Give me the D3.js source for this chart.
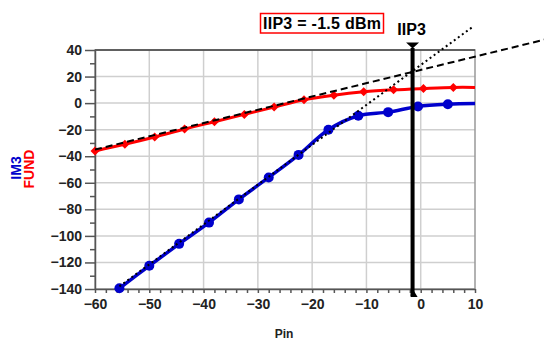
<!DOCTYPE html>
<html>
<head>
  <meta charset="UTF-8">
  <title>IIP3</title>
  <script src="https://cdn.jsdelivr.net/npm/d3@7"></script>
  <style>
    body { margin: 0; background: #fff; }
    text { font-family: "Liberation Sans", Arial, sans-serif; font-weight: bold; }
    .grid line { stroke: #cfcfcf; stroke-width: 1.5; }
    .axis path, .axis line { stroke: #555; stroke-width: 1.5; }
    .axis text { font-size: 14px; fill: #222; }
  </style>
</head>
<body>
<div id="chart"></div>
<script>
  // FUND (red) and IM3 (blue) versus Pin
  var pinFund = [-60, -54.5, -49, -43.5, -38, -32.5, -27, -21.5, -16, -10.5, -5, 0.5, 6, 10];
  var fund    = [-36, -31, -25.5, -19.5, -14, -8.5, -3, 2.5, 6, 8.5, 10, 11, 11.8, 11.8];

  var pinIm3 = [-55.5, -50, -44.5, -39, -33.5, -28, -22.5, -17, -11.5, -6, -0.5, 5, 10];
  var im3    = [-139.5, -122.5, -106, -90, -72.5, -56, -39, -20, -9.5, -6.8, -2.5, -0.8, -0.3];

  // extrapolated lines (1:1 and 3:1)
  var fundExtX = [-60, 23];
  var fundExtY = [-35, 48];
  var im3ExtX = [-55.5, 9.6];
  var im3ExtY = [-138, 57.5];

  var iip3 = -1.5;
  var xTicks = [-60, -50, -40, -30, -20, -10, 0, 10];
  var yTicks = [40, 20, 0, -20, -40, -60, -80, -100, -120, -140];

  var margin = { top: 50, right: 69, bottom: 51, left: 95 };
  var width = 544 - margin.left - margin.right;
  var height = 340 - margin.top - margin.bottom;

  var root = d3.select('#chart').append('svg')
    .attr('width', 544)
    .attr('height', 340);
  var svg = root.append('g')
    .attr('transform', 'translate(' + margin.left + ',' + margin.top + ')');

  var x = d3.scaleLinear().domain([-60, 10]).range([0, width]);
  var y = d3.scaleLinear().domain([-140, 40]).range([height, 0]);

  // grid
  svg.append('g').attr('class', 'grid')
    .selectAll('line.v').data(xTicks.slice(1, -1)).enter().append('line')
    .attr('x1', d => x(d)).attr('x2', d => x(d)).attr('y1', 0).attr('y2', height);
  svg.append('g').attr('class', 'grid')
    .selectAll('line.h').data(yTicks.slice(1, -1)).enter().append('line')
    .attr('y1', d => y(d)).attr('y2', d => y(d)).attr('x1', 0).attr('x2', width);

  // frame
  svg.append('rect').attr('width', width).attr('height', height)
    .attr('fill', 'none').attr('stroke', '#999').attr('stroke-width', 1.5);
  svg.append('line').attr('x1', 0).attr('x2', width).attr('y1', 0).attr('y2', 0)
    .attr('stroke', '#444').attr('stroke-width', 1.5);

  // axes
  svg.append('g').attr('class', 'axis')
    .attr('transform', 'translate(0,' + height + ')')
    .call(d3.axisBottom(x).tickValues(xTicks).tickSize(4).tickPadding(6).tickSizeOuter(0));
  svg.append('g').attr('class', 'axis')
    .attr('transform', 'translate(0,' + height + ')')
    .call(d3.axisBottom(x).tickValues(d3.range(-58, 10, 2).filter(d => d % 10 !== 0))
      .tickSize(4).tickFormat('').tickSizeOuter(0))
    .select('.domain').remove();

  svg.append('g').attr('class', 'axis')
    .call(d3.axisLeft(y).tickValues(yTicks).tickSize(10).tickPadding(3).tickSizeOuter(0));
  svg.append('g').attr('class', 'axis')
    .call(d3.axisLeft(y).tickValues(d3.range(-130, 40, 20)).tickSize(5).tickFormat('').tickSizeOuter(0))
    .select('.domain').remove();

  var line = d3.line().x(d => x(d[0])).y(d => y(d[1]));
  var curve = d3.line().x(d => x(d[0])).y(d => y(d[1])).curve(d3.curveCatmullRom);

  var fundPts = pinFund.map((p, i) => [p, fund[i]]);
  var im3Pts = pinIm3.map((p, i) => [p, im3[i]]);

  // series
  svg.append('path').datum(fundPts).attr('d', curve)
    .attr('fill', 'none').attr('stroke', '#ff0000').attr('stroke-width', 3);
  svg.append('path').datum(im3Pts).attr('d', curve)
    .attr('fill', 'none').attr('stroke', '#0000cc').attr('stroke-width', 3.5);

  svg.selectAll('.fm').data(fundPts.slice(0, -1)).enter().append('path')
    .attr('transform', d => 'translate(' + x(d[0]) + ',' + y(d[1]) + ')')
    .attr('d', 'M0,-4.5L4.5,0L0,4.5L-4.5,0Z')
    .attr('fill', '#ff0000');
  svg.selectAll('.im').data(im3Pts.slice(0, -1)).enter().append('circle')
    .attr('cx', d => x(d[0])).attr('cy', d => y(d[1])).attr('r', 5)
    .attr('fill', '#0000cc');

  // extrapolations
  svg.append('path').datum(fundExtX.map((p, i) => [p, fundExtY[i]])).attr('d', line)
    .attr('fill', 'none').attr('stroke', '#000').attr('stroke-width', 2)
    .attr('stroke-dasharray', '7,4');
  svg.append('path').datum(im3ExtX.map((p, i) => [p, im3ExtY[i]])).attr('d', line)
    .attr('fill', 'none').attr('stroke', '#000').attr('stroke-width', 2)
    .attr('stroke-dasharray', '2,3');

  // IIP3 marker
  var mx = x(iip3);
  svg.append('line').attr('x1', mx).attr('x2', mx).attr('y1', -2).attr('y2', height + 7)
    .attr('stroke', '#000').attr('stroke-width', 4);
  svg.append('path').attr('d', 'M' + (mx - 6.5) + ',-7.5L' + (mx + 6.5) + ',-7.5L' + mx + ',-1.5Z')
    .attr('fill', '#000');
  svg.append('path').attr('d', 'M' + (mx - 2) + ',' + (height + 8) + 'L' + (mx + 5) + ',' + (height + 8) +
      'L' + (mx - 1) + ',' + (height - 2) + 'Z')
    .attr('fill', '#000');
  svg.append('text').attr('x', mx - 1).attr('y', -15).attr('text-anchor', 'middle')
    .style('font-size', '16px').text('IIP3');

  // title box
  root.append('rect').attr('x', 260.5).attr('y', 13.5).attr('width', 123).attr('height', 19.5)
    .attr('fill', '#fff').attr('stroke', '#ff0000').attr('stroke-width', 1.5);
  root.append('text').attr('x', 322).attr('y', 29).attr('text-anchor', 'middle')
    .style('font-size', '16px').attr('textLength', 118).text('IIP3 = -1.5 dBm');

  // axis titles
  root.append('text').attr('x', 284).attr('y', 338).attr('text-anchor', 'middle')
    .style('font-size', '12px').attr('fill', '#222').text('Pin');
  root.append('text').attr('transform', 'translate(21,168) rotate(-90)').attr('text-anchor', 'middle')
    .style('font-size', '14px').attr('fill', '#0000cc').text('IM3');
  root.append('text').attr('transform', 'translate(34,169) rotate(-90)').attr('text-anchor', 'middle')
    .style('font-size', '14px').attr('fill', '#ff0000').text('FUND');
</script>
</body>
</html>
